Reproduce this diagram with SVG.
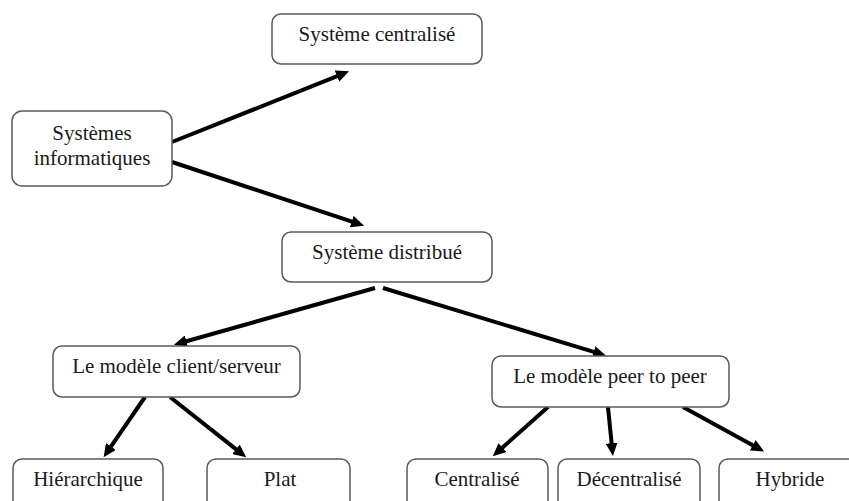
<svg xmlns="http://www.w3.org/2000/svg" width="849" height="501" viewBox="0 0 849 501">
  <style>
    .box { fill: #ffffff; stroke: #595959; stroke-width: 1.5; }
    .lbl { font-family: "Liberation Serif", "Times New Roman", serif; font-size: 21px; fill: #1a1a1a; text-anchor: middle; }
    .edge { stroke: #000000; stroke-width: 4; fill: none; marker-end: url(#head); }
  </style>
  <defs>
    <marker id="head" markerUnits="userSpaceOnUse" markerWidth="13" markerHeight="12" refX="1" refY="6" orient="auto">
      <path d="M0,0 L13,6 L0,12 z" fill="#000000"/>
    </marker>
  </defs>

  <rect width="849" height="501" fill="#ffffff"/>

  <g id="connectors">
    <line class="edge" x1="172" y1="142" x2="337.9" y2="75.8"/>
    <line class="edge" x1="172" y1="162" x2="352.7" y2="221.9"/>
    <line class="edge" x1="375" y1="288" x2="185.5" y2="341.5"/>
    <line class="edge" x1="383" y1="288" x2="594.6" y2="352.2"/>
    <line class="edge" x1="145" y1="397" x2="110.4" y2="447.3"/>
    <line class="edge" x1="170" y1="397" x2="236.8" y2="449.9"/>
    <line class="edge" x1="548" y1="407" x2="501.7" y2="448.3"/>
    <line class="edge" x1="608" y1="407" x2="611.7" y2="444.1"/>
    <line class="edge" x1="683" y1="407" x2="753.6" y2="445.7"/>
  </g>

  <g id="centralise">
    <rect class="box" x="272" y="14" width="210" height="50" rx="9"/>
    <text class="lbl" x="377" y="41">Système centralisé</text>
  </g>

  <g id="systemes-informatiques">
    <rect class="box" x="12" y="111" width="160" height="75" rx="10"/>
    <text class="lbl" x="92" y="140">Systèmes</text>
    <text class="lbl" x="92" y="165">informatiques</text>
  </g>

  <g id="distribue">
    <rect class="box" x="282" y="232" width="210" height="50" rx="9"/>
    <text class="lbl" x="387" y="259">Système distribué</text>
  </g>

  <g id="client-serveur">
    <rect class="box" x="53" y="346" width="247" height="51" rx="9"/>
    <text class="lbl" x="176.5" y="373">Le modèle client/serveur</text>
  </g>

  <g id="peer-to-peer">
    <rect class="box" x="492" y="356" width="237" height="51" rx="9"/>
    <text class="lbl" x="610" y="383">Le modèle peer to peer</text>
  </g>

  <g id="hierarchique">
    <rect class="box" x="13" y="459" width="150" height="60" rx="9"/>
    <text class="lbl" x="88" y="486">Hiérarchique</text>
  </g>

  <g id="plat">
    <rect class="box" x="207" y="459" width="143" height="60" rx="9"/>
    <text class="lbl" x="280" y="486">Plat</text>
  </g>

  <g id="p2p-centralise">
    <rect class="box" x="407" y="459" width="141" height="60" rx="9"/>
    <text class="lbl" x="477" y="486">Centralisé</text>
  </g>

  <g id="p2p-decentralise">
    <rect class="box" x="558" y="459" width="142" height="60" rx="9"/>
    <text class="lbl" x="629" y="486">Décentralisé</text>
  </g>

  <g id="p2p-hybride">
    <rect class="box" x="719" y="459" width="142" height="60" rx="9"/>
    <text class="lbl" x="790" y="486">Hybride</text>
  </g>
</svg>
